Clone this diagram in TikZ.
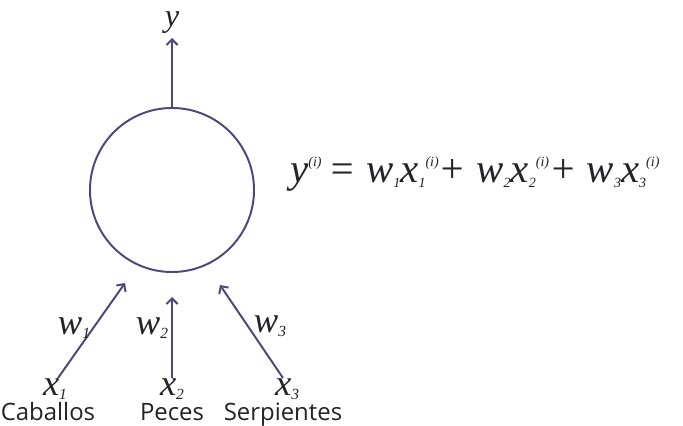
\documentclass[tikz,border=0pt]{standalone}
\usepackage{fontspec}
\setmainfont{Liberation Serif}
\newfontfamily\namefont{Open Sans}
\usetikzlibrary{arrows.meta}
\definecolor{neuron}{RGB}{76,72,122}
\definecolor{ink}{RGB}{34,34,40}
\newcommand\lo[2][10]{\raisebox{-3pt}[\height][0pt]{\fontsize{#1}{#1}\selectfont #2}}
\newcommand\hi[2][10]{\raisebox{12pt}{\fontsize{#1}{#1}\selectfont #2}}

\begin{document}
\begin{tikzpicture}[x=0.025cm,y=-0.025cm,text=ink,
  syn/.style={draw=neuron,line width=1.4pt,-{Straight Barb[length=4pt,width=8pt]}},
  var/.style={font=\fontsize{26}{28}\selectfont\itshape,inner sep=0pt},
  animal/.style={font=\fontsize{17}{20}\selectfont\namefont,inner sep=0pt}]
\useasboundingbox (0,0) rectangle (683,426);
\node[draw=neuron,line width=1.4pt,circle,minimum size=4.1cm] (n) at (172,190) {};
% output
\node[var,font=\fontsize{23}{24}\selectfont\itshape,anchor=base] (y) at (172,27) {y};
\draw[syn] (n.north) -- (y.south |- 0,38);
% inputs
\node[var,anchor=base] (x1) at (55,395) {x\lo[11]{1}};
\node[var,anchor=base] (x2) at (172,395) {x\lo[11]{2}};
\node[var,anchor=base] (x3) at (287,395) {x\lo[11]{3}};
\node[animal,anchor=base] (c1) at (48,420) {Caballos};
\node[animal,anchor=base] (c2) at (172,420) {Peces};
\node[animal,anchor=base] (c3) at (283,420) {Serpientes};
\coordinate (s1) at (58,378);
\coordinate (s2) at (172,378);
\coordinate (s3) at (283,378);
\coordinate (t1) at (125,283);
\coordinate (t2) at (172,297);
\coordinate (t3) at (220,285);
\draw[syn] (s1) -- (t1);
\draw[syn] (s2) -- (t2);
\draw[syn] (s3) -- (t3);
\node[var,anchor=base] (w1) at (74,334) {w\lo[11]{1}};
\node[var,anchor=base] (w2) at (152,334) {w\lo[11]{2}};
\node[var,anchor=base] (w3) at (270,332) {w\lo[11]{3}};
% equation
\node[var,font=\fontsize{29}{32}\selectfont\itshape,anchor=base west] (eq) at (290,183)
  {y\hi{(i)}\,= w\lo{1}x\lo{1}\hi{(i)}+ w\lo{2}x\lo{2}\hi{(i)}+ w\lo{3}x\lo{3}\hi{(i)}};
\end{tikzpicture}
\end{document}
